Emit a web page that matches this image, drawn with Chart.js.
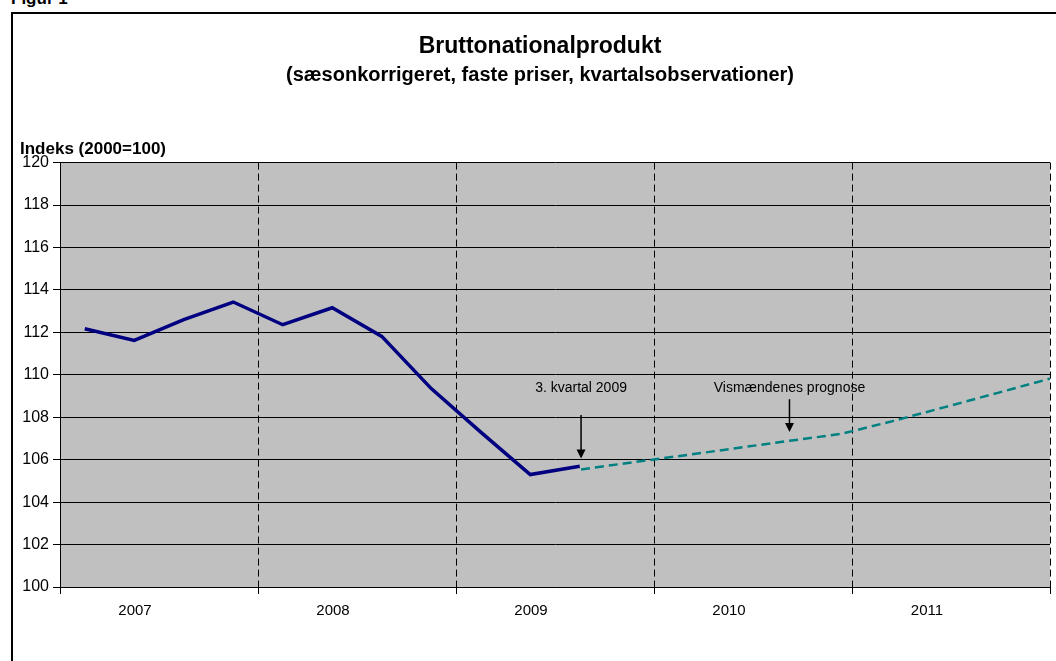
<!DOCTYPE html>
<html>
<head>
<meta charset="utf-8">
<script src="https://cdn.jsdelivr.net/npm/chart.js@4"></script>
<style>
  html, body { margin: 0; padding: 0; background: #fff; overflow: hidden; width: 1056px; height: 661px; position: relative; }
  #frame { position: absolute; left: 11px; top: 12px; width: 2000px; height: 2000px; border-left: 2px solid #000; border-top: 2px solid #000; }
  #fig { position: absolute; left: 11px; top: -11px; font: bold 17px "Liberation Sans", Arial, sans-serif; line-height: 20px; color: #000; }
  #wrap { position: absolute; left: 0; top: 0; width: 1080px; height: 661px; }
</style>
</head>
<body>
<div id="frame"></div>
<div id="fig">Figur 1</div>
<div id="wrap"><canvas id="c" width="1080" height="661"></canvas></div>
<script>
// ---- data ----
const years = ['2007', '2008', '2009', '2010', '2011'];
const quarters = ['2007K1','2007K2','2007K3','2007K4','2008K1','2008K2','2008K3','2008K4',
                  '2009K1','2009K2','2009K3','2009K4','2010K1','2010K2','2010K3','2010K4',
                  '2011K1','2011K2','2011K3','2011K4'];
const bnpActual = [112.17, 111.62, 112.60, 113.43, 112.36, 113.16, 111.81, 109.35, 107.30, 105.30, 105.69];
const bnpForecast = [null, null, null, null, null, null, null, null, null, null,
                     105.54, 105.88, 106.21, 106.55, 106.89, 107.22, 107.83, 108.49, 109.15, 109.82];
const yTicks = { min: 100, max: 120, step: 2 };
const titleText = 'Bruttonationalprodukt';
const subtitleText = '(sæsonkorrigeret, faste priser, kvartalsobservationer)';
const yAxisTitle = 'Indeks (2000=100)';
const notes = [
  { text: '3. kvartal 2009', at: '2009K3', textY: 109.35, from: 108.1, to: 106.05 },
  { text: 'Vismændenes prognose', at: '2010K3', textY: 109.35, from: 108.85, to: 107.3 }
];

const FONT = '"Liberation Sans", Arial, sans-serif';

const bgPlugin = {
  id: 'plotBg',
  beforeDraw(chart) {
    const { ctx, chartArea: a } = chart;
    ctx.save();
    ctx.fillStyle = '#C0C0C0';
    ctx.fillRect(a.left, a.top, a.right - a.left, a.bottom - a.top);
    ctx.restore();
  }
};

const notesPlugin = {
  id: 'notes',
  afterDatasetsDraw(chart) {
    const { ctx } = chart;
    const xs = chart.scales.xf, ys = chart.scales.y;
    ctx.save();
    notes.forEach(n => {
      const x = xs.getPixelForValue(quarters.indexOf(n.at));
      const yt = ys.getPixelForValue(n.textY);
      const y1 = ys.getPixelForValue(n.from);
      const y2 = ys.getPixelForValue(n.to);
      ctx.fillStyle = '#000';
      ctx.font = '14px ' + FONT;
      ctx.textAlign = 'center';
      ctx.textBaseline = 'middle';
      ctx.fillText(n.text, x, yt);
      ctx.strokeStyle = '#000';
      ctx.lineWidth = 1.5;
      ctx.beginPath();
      ctx.moveTo(x, y1);
      ctx.lineTo(x, y2 - 7);
      ctx.stroke();
      ctx.beginPath();
      ctx.moveTo(x - 4.5, y2 - 9);
      ctx.lineTo(x + 4.5, y2 - 9);
      ctx.lineTo(x, y2);
      ctx.closePath();
      ctx.fill();
    });
    ctx.restore();
  }
};

const yTitlePlugin = {
  id: 'yTitle',
  afterDraw(chart) {
    const { ctx, chartArea: a } = chart;
    ctx.save();
    ctx.fillStyle = '#000';
    ctx.font = 'bold 17px ' + FONT;
    ctx.textAlign = 'left';
    ctx.textBaseline = 'alphabetic';
    ctx.fillText(yAxisTitle, 20, a.top - 9);
    ctx.restore();
  }
};

new Chart(document.getElementById('c'), {
  type: 'line',
  data: {
    datasets: [
      {
        label: 'BNP',
        data: bnpActual,
        xAxisID: 'xq',
        yAxisID: 'y',
        borderColor: '#000080',
        borderWidth: 3.5,
        pointRadius: 0,
        tension: 0,
        fill: false
      },
      {
        label: 'Prognose',
        data: bnpForecast,
        xAxisID: 'xf',
        yAxisID: 'y',
        borderColor: '#008080',
        borderWidth: 2.5,
        borderDash: [9, 5],
        pointRadius: 0,
        tension: 0,
        fill: false
      }
    ]
  },
  options: {
    responsive: false,
    animation: false,
    events: [],
    layout: { padding: 0 },
    plugins: {
      legend: { display: false },
      tooltip: { enabled: false },
      title: {
        display: true,
        text: titleText,
        color: '#000',
        font: { family: FONT, size: 23, weight: 'bold' },
        padding: { top: 33, bottom: 3 }
      },
      subtitle: {
        display: true,
        text: subtitleText,
        color: '#000',
        font: { family: FONT, size: 20, weight: 'bold' },
        padding: { top: 0, bottom: 75 }
      }
    },
    scales: {
      x: {
        type: 'category',
        labels: years,
        position: 'bottom',
        offset: true,
        afterFit(s) { s.height = 74; },
        grid: {
          offset: true,
          color: '#000',
          lineWidth: 1,
          tickLength: 7,
          tickBorderDash: []
        },
        border: { display: true, color: '#000', width: 1, dash: [7, 4] },
        ticks: { color: '#000', font: { family: FONT, size: 15 }, padding: 8, maxRotation: 0, labelOffset: -24 }
      },
      xq: {
        type: 'category',
        labels: quarters,
        offset: true,
        display: false
      },
      xf: {
        type: 'category',
        labels: quarters,
        offset: false,
        display: false
      },
      y: {
        type: 'linear',
        min: yTicks.min,
        max: yTicks.max,
        afterFit(s) { s.width = 60; },
        grid: { color: '#000', lineWidth: 1, tickLength: 7 },
        border: { display: true, color: '#000', width: 1 },
        ticks: { stepSize: yTicks.step, color: '#000', font: { family: FONT, size: 16 }, padding: 4 }
      },
      rightGap: {
        type: 'linear',
        position: 'right',
        display: true,
        afterFit(s) { s.width = 30; },
        grid: { display: false, drawOnChartArea: false, drawTicks: false },
        border: { display: false },
        ticks: { display: false }
      }
    }
  },
  plugins: [bgPlugin, notesPlugin, yTitlePlugin]
});
</script>
</body>
</html>
